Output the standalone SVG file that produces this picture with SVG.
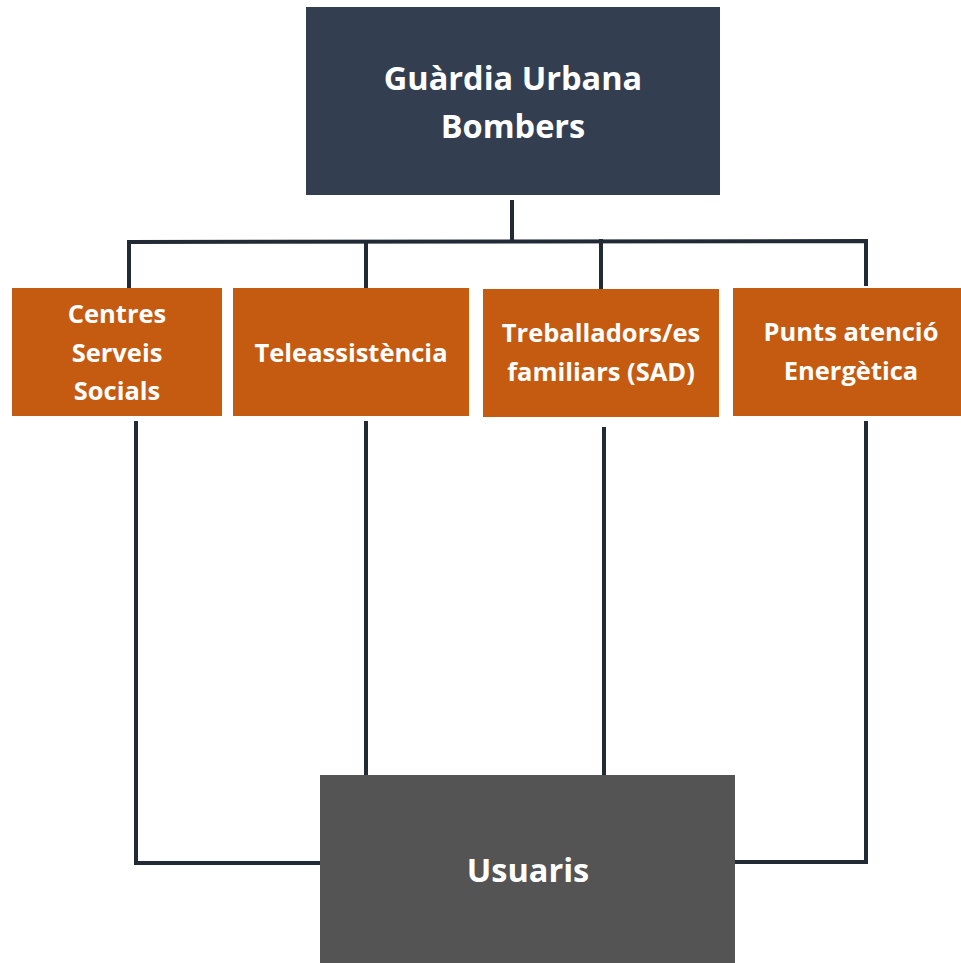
<svg xmlns="http://www.w3.org/2000/svg" width="961" height="963" viewBox="0 0 961 963">
<style>
.t{font-family:"Open Sans",Lato,"Liberation Sans",sans-serif;font-weight:bold;fill:#fff;text-anchor:middle}
.big{font-size:32.5px}
.mid{font-size:25.5px}
.c{fill:none;stroke:#222A35;stroke-width:4;stroke-linejoin:miter;stroke-linecap:square}
</style>
<rect width="961" height="963" fill="#fff"/>
<g id="connectors">
<path class="c" d="M512 202 V241"/>
<path class="c" d="M129 286 V242 L866 241 V284"/>
<path class="c" d="M366 242 V286"/>
<path class="c" d="M601 241 V287"/>
<path class="c" d="M136 423 V863 H320"/>
<path class="c" d="M366 423 V773"/>
<path class="c" d="M604 429 V776"/>
<path class="c" d="M866 423 V862 H735"/>
</g>
<g id="guardia">
<rect x="306" y="7" width="414" height="188" fill="#333F50"/>
<text class="t big" x="513" y="90">Guàrdia Urbana</text>
<text class="t big" x="513" y="138">Bombers</text>
</g>
<g id="centres">
<rect x="12" y="288" width="210" height="128" fill="#C55A11"/>
<text class="t mid" x="117" y="323">Centres</text>
<text class="t mid" x="117" y="362">Serveis</text>
<text class="t mid" x="117" y="400">Socials</text>
</g>
<g id="teleassistencia">
<rect x="233" y="288" width="236" height="128" fill="#C55A11"/>
<text class="t mid" x="351" y="362">Teleassistència</text>
</g>
<g id="treballadors">
<rect x="483" y="289" width="236" height="128" fill="#C55A11"/>
<text class="t mid" x="601" y="342">Treballadors/es</text>
<text class="t mid" x="601" y="381">familiars (SAD)</text>
</g>
<g id="punts">
<rect x="733" y="288" width="228" height="128" fill="#C55A11"/>
<text class="t mid" x="851" y="341">Punts atenció</text>
<text class="t mid" x="851" y="380">Energètica</text>
</g>
<g id="usuaris">
<rect x="320" y="775" width="415" height="188" fill="#545454"/>
<text class="t big" x="528" y="882">Usuaris</text>
</g>
</svg>
